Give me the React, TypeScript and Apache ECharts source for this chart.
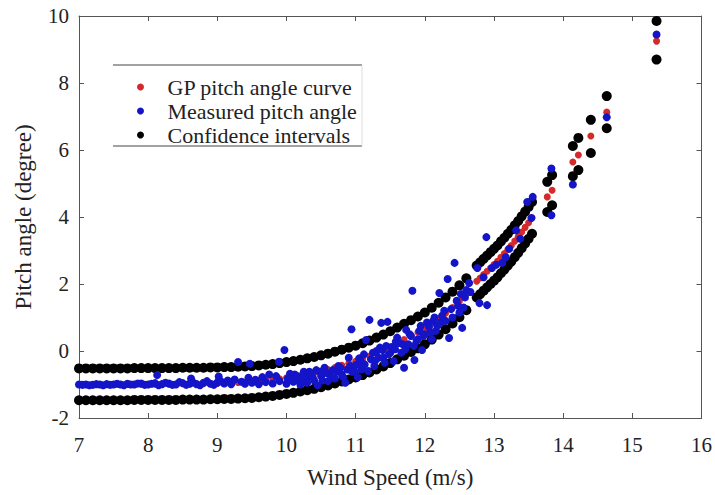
import React, { useEffect, useRef } from "react";
import * as echarts from "echarts";

// Confidence interval / GP curve, dense segment 1
const CI_X1 = [7.0, 7.1, 7.2, 7.3, 7.4, 7.5, 7.6, 7.7, 7.8, 7.9, 8.0, 8.1, 8.2, 8.3, 8.4, 8.5, 8.6, 8.7, 8.8, 8.9, 9.0, 9.1, 9.2, 9.3, 9.4, 9.5, 9.6, 9.7, 9.8, 9.9, 10.0, 10.1, 10.2, 10.3, 10.4, 10.5, 10.6, 10.7, 10.8, 10.9, 11.0, 11.1, 11.2, 11.3, 11.4, 11.5, 11.6, 11.7, 11.8, 11.9, 12.0, 12.1, 12.2, 12.3, 12.4, 12.5, 12.6];
const CI_UP1 = [-0.52, -0.52, -0.52, -0.52, -0.52, -0.52, -0.52, -0.52, -0.51, -0.51, -0.51, -0.51, -0.51, -0.51, -0.51, -0.5, -0.5, -0.5, -0.5, -0.49, -0.49, -0.48, -0.48, -0.47, -0.46, -0.45, -0.43, -0.41, -0.39, -0.36, -0.33, -0.3, -0.26, -0.22, -0.18, -0.13, -0.08, -0.02, 0.04, 0.1, 0.16, 0.23, 0.31, 0.4, 0.49, 0.59, 0.7, 0.81, 0.92, 1.03, 1.15, 1.29, 1.44, 1.6, 1.77, 1.96, 2.17];
const CI_LO1 = [-1.47, -1.47, -1.47, -1.47, -1.47, -1.47, -1.47, -1.47, -1.46, -1.46, -1.46, -1.46, -1.46, -1.46, -1.46, -1.45, -1.45, -1.45, -1.45, -1.44, -1.44, -1.43, -1.43, -1.42, -1.41, -1.4, -1.38, -1.36, -1.34, -1.31, -1.28, -1.25, -1.21, -1.17, -1.13, -1.08, -1.03, -0.97, -0.91, -0.85, -0.79, -0.72, -0.64, -0.55, -0.46, -0.36, -0.25, -0.14, -0.03, 0.08, 0.2, 0.34, 0.49, 0.65, 0.82, 1.01, 1.22];
const GP1 = [-1.0, -1.0, -1.0, -1.0, -1.0, -1.0, -1.0, -1.0, -0.99, -0.99, -0.99, -0.99, -0.99, -0.99, -0.99, -0.98, -0.98, -0.98, -0.98, -0.97, -0.97, -0.96, -0.95, -0.94, -0.93, -0.92, -0.9, -0.88, -0.86, -0.83, -0.8, -0.77, -0.73, -0.69, -0.65, -0.6, -0.55, -0.49, -0.43, -0.37, -0.31, -0.24, -0.16, -0.07, 0.02, 0.12, 0.23, 0.34, 0.45, 0.56, 0.68, 0.82, 0.97, 1.13, 1.3, 1.49, 1.7];

// segment 2
const CI_X2 = [12.75, 12.8, 12.85, 12.9, 12.95, 13.0, 13.05, 13.1, 13.15, 13.2, 13.25, 13.3, 13.35, 13.4, 13.45, 13.5, 13.55];
const CI_UP2 = [2.55, 2.65, 2.75, 2.85, 2.95, 3.05, 3.15, 3.27, 3.38, 3.5, 3.62, 3.75, 3.88, 4.02, 4.16, 4.3, 4.45];
const CI_LO2 = [1.6, 1.7, 1.8, 1.9, 2.0, 2.1, 2.2, 2.32, 2.43, 2.55, 2.67, 2.8, 2.93, 3.07, 3.21, 3.35, 3.5];
const GP2 = [2.08, 2.18, 2.28, 2.38, 2.48, 2.58, 2.68, 2.8, 2.91, 3.03, 3.15, 3.28, 3.41, 3.55, 3.69, 3.83, 3.98];

// sparse high wind speeds
const CI_X3 = [13.77, 13.84, 14.14, 14.22, 14.4, 14.63, 15.35];
const CI_UP3 = [5.05, 5.25, 6.12, 6.36, 6.9, 7.61, 9.85];
const CI_LO3 = [4.15, 4.35, 5.22, 5.4, 5.91, 6.65, 8.7];
const GP3 = [4.6, 4.8, 5.64, 5.85, 6.42, 7.13, 9.25];

// measured pitch angle
const MEAS_X = [7.0, 7.05, 7.1, 7.15, 7.2, 7.25, 7.3, 7.35, 7.4, 7.45, 7.5, 7.55, 7.6, 7.65, 7.7, 7.75, 7.8, 7.85, 7.9, 7.95, 8.0, 8.05, 8.1, 8.13, 8.15, 8.2, 8.25, 8.3, 8.35, 8.4, 8.45, 8.5, 8.55, 8.6, 8.62, 8.65, 8.7, 8.75, 8.8, 8.85, 8.9, 8.95, 9.0, 9.02, 9.05, 9.1, 9.15, 9.2, 9.25, 9.3, 9.35, 9.4, 9.45, 9.47, 9.5, 9.55, 9.6, 9.65, 9.7, 9.75, 9.8, 9.85, 9.89, 9.9, 9.97, 10.0, 10.02, 10.05, 10.08, 10.1, 10.12, 10.15, 10.18, 10.2, 10.22, 10.25, 10.27, 10.29, 10.3, 10.33, 10.35, 10.38, 10.4, 10.43, 10.45, 10.48, 10.5, 10.52, 10.55, 10.58, 10.6, 10.62, 10.65, 10.67, 10.7, 10.72, 10.75, 10.78, 10.8, 10.82, 10.85, 10.88, 10.9, 10.92, 10.94, 10.95, 10.98, 11.0, 11.03, 11.05, 11.07, 11.08, 11.1, 11.12, 11.13, 11.15, 11.18, 11.2, 11.22, 11.25, 11.27, 11.28, 11.3, 11.33, 11.35, 11.37, 11.39, 11.4, 11.42, 11.44, 11.46, 11.48, 11.5, 11.52, 11.55, 11.57, 11.58, 11.6, 11.63, 11.66, 11.68, 11.7, 11.72, 11.73, 11.76, 11.78, 11.8, 11.82, 11.84, 11.85, 11.88, 11.9, 11.92, 11.94, 11.96, 11.98, 12.0, 12.03, 12.06, 12.08, 12.1, 12.12, 12.14, 12.16, 12.18, 12.21, 12.23, 12.25, 12.28, 12.3, 12.33, 12.35, 12.38, 12.4, 12.43, 12.46, 12.48, 12.5, 12.52, 12.54, 12.56, 12.58, 12.6, 12.64, 12.66, 12.76, 12.79, 12.85, 12.89, 12.9, 12.97, 13.03, 13.12, 13.17, 13.22, 13.32, 13.38, 13.48, 13.54, 13.56, 13.83, 13.83, 14.14, 14.63, 15.35];
const MEAS_Y = [-1.0, -1.01, -1.0, -1.02, -1.01, -0.99, -1.0, -1.02, -0.99, -1.01, -1.0, -0.98, -1.0, -1.02, -0.98, -1.0, -1.0, -0.97, -0.97, -1.01, -1.0, -0.98, -0.96, -0.72, -1.02, -0.99, -0.95, -0.97, -1.01, -1.0, -0.93, -0.96, -1.01, -0.98, -0.82, -0.94, -0.99, -1.02, -0.95, -0.9, -0.98, -1.01, -0.94, -0.76, -0.9, -0.97, -0.88, -0.99, -0.85, -0.33, -0.92, -0.98, -0.8, -0.38, -0.95, -0.86, -0.99, -0.78, -0.93, -0.7, -0.97, -0.75, -0.32, -0.9, 0.03, -0.98, -0.82, -0.68, -0.85, -0.92, -0.7, -0.75, -0.88, -1.0, -0.78, -0.62, -0.92, -0.8, -0.95, -0.62, -0.7, -0.78, -0.88, -0.57, -1.02, -0.62, -0.75, -0.88, -0.5, -0.66, -0.9, -0.68, -0.8, -0.57, -0.82, -0.62, -0.45, -0.5, -0.7, -0.78, -0.95, -0.55, -0.2, -0.45, 0.65, -0.62, -0.62, -0.42, -0.78, -0.22, -0.3, -0.55, -0.48, -0.1, -0.4, 0.33, -0.6, 0.93, -0.25, -0.05, -0.45, -0.3, 0.0, -0.2, 0.1, 0.84, 0.03, -0.2, -0.35, 0.15, 0.87, -0.1, -0.05, 0.12, -0.3, 0.05, 0.28, 0.4, 0.24, -0.05, 0.2, -0.5, 0.05, 0.63, 0.2, 0.5, 0.45, 1.8, 0.15, -0.27, 0.3, 0.35, 0.6, 0.75, 0.03, 0.45, 0.5, 0.85, 0.72, 0.55, 0.35, 0.9, 1.0, 0.6, 0.75, 1.73, 0.85, 1.05, 1.2, 0.9, 2.15, 0.39, 1.25, 1.0, 2.63, 1.5, 1.35, 1.15, 1.7, 0.69, 1.3, 1.6, 1.82, 2.03, 1.76, 2.48, 1.43, 2.2, 3.4, 1.37, 2.48, 2.57, 2.63, 2.8, 3.05, 3.6, 3.35, 4.45, 3.97, 4.6, 5.45, 4.05, 4.97, 6.98, 9.45];

const X_TICKS = [7, 8, 9, 10, 11, 12, 13, 14, 15, 16];
const Y_TICKS = [-2, 0, 2, 4, 6, 8, 10];

const LEGEND_NAMES = ["GP pitch angle curve", "Measured pitch angle", "Confidence intervals"];

const FONT = "'Liberation Serif', 'DejaVu Serif', serif";

function pairs(xs: number[], ys: number[]) {
  return xs.map((x, i) => [x, ys[i]]);
}

export default function App() {
  const ref = useRef<HTMLDivElement>(null);
  useEffect(() => {
    if (!ref.current) return;
    const chart = echarts.init(ref.current, null, { renderer: "svg" });
    const ciData = [
      ...pairs(CI_X1, CI_UP1),
      ...pairs(CI_X1, CI_LO1),
      ...pairs(CI_X2, CI_UP2),
      ...pairs(CI_X2, CI_LO2),
      ...pairs(CI_X3, CI_UP3),
      ...pairs(CI_X3, CI_LO3),
    ];
    const gpData = [...pairs(CI_X1, GP1), ...pairs(CI_X2, GP2), ...pairs(CI_X3, GP3)];
    const measData = pairs(MEAS_X, MEAS_Y);
    const axisLineStyle = { color: "#555", width: 1 };
    const xMin = X_TICKS[0];
    const xMax = X_TICKS[X_TICKS.length - 1];
    const yMin = Y_TICKS[0];
    const yMax = Y_TICKS[Y_TICKS.length - 1];
    chart.setOption({
      animation: false,
      backgroundColor: "#fff",
      grid: { left: 79, right: 12, top: 16, bottom: 77, containLabel: false },
      legend: {
        data: LEGEND_NAMES,
        orient: "vertical",
        left: 132,
        top: 70,
        icon: "circle",
        itemWidth: 44,
        itemHeight: 7,
        itemGap: 0,
        textStyle: { fontFamily: FONT, fontSize: 22, color: "#222", lineHeight: 24 },
      },
      graphic: [
        { type: "line", shape: { x1: 113, y1: 65, x2: 362, y2: 65 }, style: { stroke: "#444", lineWidth: 1 } },
        { type: "line", shape: { x1: 113, y1: 146, x2: 362, y2: 146 }, style: { stroke: "#444", lineWidth: 1 } },
        { type: "line", shape: { x1: 362, y1: 65, x2: 362, y2: 146 }, style: { stroke: "#ddd", lineWidth: 1 } },
      ],
      xAxis: [
        {
          type: "value",
          min: xMin,
          max: xMax,
          interval: 1,
          name: "Wind Speed (m/s)",
          nameLocation: "middle",
          nameGap: 48,
          nameTextStyle: { fontFamily: FONT, fontSize: 23, color: "#222" },
          axisLine: { show: true, onZero: false, lineStyle: axisLineStyle },
          axisTick: { show: true, inside: true, length: 5, lineStyle: axisLineStyle },
          axisLabel: { fontFamily: FONT, fontSize: 21, color: "#222", margin: 16 },
          splitLine: { show: false },
        },
        {
          type: "value",
          position: "top",
          min: xMin,
          max: xMax,
          interval: 1,
          axisLine: { show: true, onZero: false, lineStyle: axisLineStyle },
          axisTick: { show: true, inside: true, length: 5, lineStyle: axisLineStyle },
          axisLabel: { show: false },
          splitLine: { show: false },
        },
      ],
      yAxis: [
        {
          type: "value",
          min: yMin,
          max: yMax,
          interval: 2,
          name: "Pitch angle (degree)",
          nameLocation: "middle",
          nameGap: 44,
          nameTextStyle: { fontFamily: FONT, fontSize: 23, color: "#222" },
          axisLine: { show: true, onZero: false, lineStyle: axisLineStyle },
          axisTick: { show: true, inside: true, length: 5, lineStyle: axisLineStyle },
          axisLabel: { fontFamily: FONT, fontSize: 21, color: "#222", margin: 10 },
          splitLine: { show: false },
        },
        {
          type: "value",
          position: "right",
          min: yMin,
          max: yMax,
          interval: 2,
          axisLine: { show: true, onZero: false, lineStyle: axisLineStyle },
          axisTick: { show: true, inside: true, length: 5, lineStyle: axisLineStyle },
          axisLabel: { show: false },
          splitLine: { show: false },
        },
      ],
      series: [
        {
          name: "Confidence intervals",
          type: "scatter",
          data: ciData,
          symbolSize: 10,
          itemStyle: { color: "#000", opacity: 1 },
        },
        {
          name: "GP pitch angle curve",
          type: "scatter",
          data: gpData,
          symbolSize: 7,
          itemStyle: { color: "#d42a2a", opacity: 1 },
        },
        {
          name: "Measured pitch angle",
          type: "scatter",
          data: measData,
          symbolSize: 8,
          itemStyle: { color: "#1414c8", opacity: 1 },
        },
      ],
    });
    return () => chart.dispose();
  }, []);
  return (
    <div
      ref={ref}
      style={{ position: "fixed", left: 0, top: 0, width: 715, height: 495 }}
    />
  );
}
